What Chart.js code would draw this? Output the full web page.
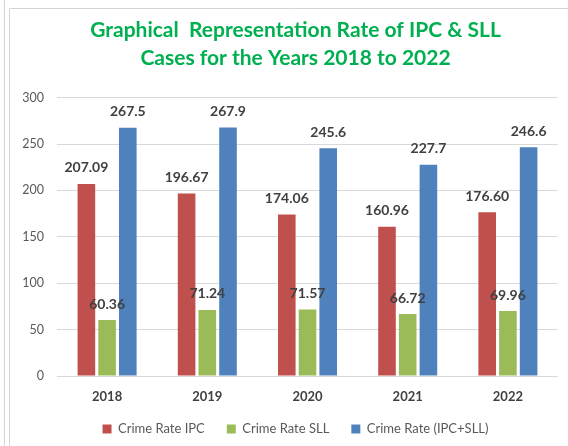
<!DOCTYPE html>
<html>
<head>
<meta charset="utf-8">
<script src="https://cdn.jsdelivr.net/npm/chart.js@4.4.1/dist/chart.umd.min.js"></script>
<style>
  html, body { margin: 0; padding: 0; background: #ffffff; }
  #wrap { position: relative; width: 568px; height: 446px; }
</style>
</head>
<body>
<div id="wrap"><canvas id="c" width="568" height="446"></canvas></div>
<script>
const years = ['2018', '2019', '2020', '2021', '2022'];
const crimeRateIPC = [207.09, 196.67, 174.06, 160.96, 176.60];
const crimeRateSLL = [60.36, 71.24, 71.57, 66.72, 69.96];
const crimeRateTotal = [267.5, 267.9, 245.6, 227.7, 246.6];
const seriesNames = ['Crime Rate IPC', 'Crime Rate SLL', 'Crime Rate (IPC+SLL)'];
const seriesDecimals = [2, 2, 1];
const yTicks = [0, 50, 100, 150, 200, 250, 300];
const titleLines = ['Graphical  Representation Rate of IPC & SLL', 'Cases for the Years 2018 to 2022'];

const FONT = 'Lato, "Open Sans", sans-serif';

const framePlugin = {
  id: 'frame',
  beforeDraw(chart) {
    const ctx = chart.ctx;
    ctx.save();
    ctx.fillStyle = '#ffffff';
    ctx.fillRect(0, 0, chart.width, chart.height);
    ctx.strokeStyle = '#d4d4d4';
    ctx.lineWidth = 1;
    ctx.beginPath();
    ctx.moveTo(4.5, 0); ctx.lineTo(4.5, chart.height);
    ctx.moveTo(9.5, chart.height); ctx.lineTo(9.5, 8.5); ctx.lineTo(chart.width, 8.5);
    ctx.stroke();
    ctx.restore();
  }
};

const layoutShift = {
  id: 'layoutShift',
  afterLayout(chart) {
    const dx = 6.5;
    const lg = chart.legend;
    if (lg) {
      lg.left += dx; lg.right += dx;
      const h = lg.height;
      lg.top = 400.5; lg.bottom = lg.top + h;
    }
    const t = chart.titleBlock;
    if (t) { t.left += dx; t.right += dx; }
  }
};

const valueLabels = {
  id: 'valueLabels',
  afterDatasetsDraw(chart) {
    const ctx = chart.ctx;
    ctx.save();
    ctx.font = 'bold 14px ' + FONT;
    ctx.fillStyle = '#404040';
    ctx.textAlign = 'center';
    ctx.textBaseline = 'middle';
    chart.data.datasets.forEach((ds, di) => {
      const meta = chart.getDatasetMeta(di);
      meta.data.forEach((bar, i) => {
        const v = ds.data[i];
        ctx.fillText(v.toFixed(seriesDecimals[di]), bar.x, bar.y - 16);
      });
    });
    ctx.restore();
  }
};

new Chart(document.getElementById('c'), {
  type: 'bar',
  data: {
    labels: years,
    datasets: [
      { label: seriesNames[0], data: crimeRateIPC, backgroundColor: '#C0504D' },
      { label: seriesNames[1], data: crimeRateSLL, backgroundColor: '#9BBB59' },
      { label: seriesNames[2], data: crimeRateTotal, backgroundColor: '#4F81BD' }
    ]
  },
  options: {
    responsive: false,
    animation: false,
    devicePixelRatio: 1,
    layout: { padding: { left: 20, right: 10, top: 0, bottom: 0 } },
    datasets: { bar: { categoryPercentage: 0.62, barPercentage: 0.85 } },
    plugins: {
      title: {
        display: true,
        text: titleLines,
        color: '#00B050',
        font: { family: FONT, size: 21, weight: 'bold', lineHeight: 1.35 },
        padding: { top: 16, bottom: 25 }
      },
      legend: {
        display: true,
        position: 'bottom',
        maxHeight: 41,
        labels: {
          color: '#595959',
          font: { family: FONT, size: 13 },
          boxWidth: 9,
          boxHeight: 9,
          padding: 22
        }
      },
      tooltip: { enabled: false }
    },
    scales: {
      x: {
        afterFit(scale) { scale.height = 29; },
        grid: { display: false, drawTicks: false },
        border: { display: false },
        ticks: { color: '#404040', font: { family: FONT, size: 13, weight: 'bold' }, padding: 13 }
      },
      y: {
        min: 0,
        max: 300,
        afterFit(scale) { scale.width = 37; },
        afterBuildTicks(scale) { scale.ticks = yTicks.map(v => ({ value: v })); },
        grid: { color: '#D9D9D9', drawTicks: false },
        border: { display: false },
        ticks: { color: '#595959', font: { family: FONT, size: 12.5 }, padding: 13 }
      }
    }
  },
  plugins: [framePlugin, layoutShift, valueLabels]
});
</script>
</body>
</html>
